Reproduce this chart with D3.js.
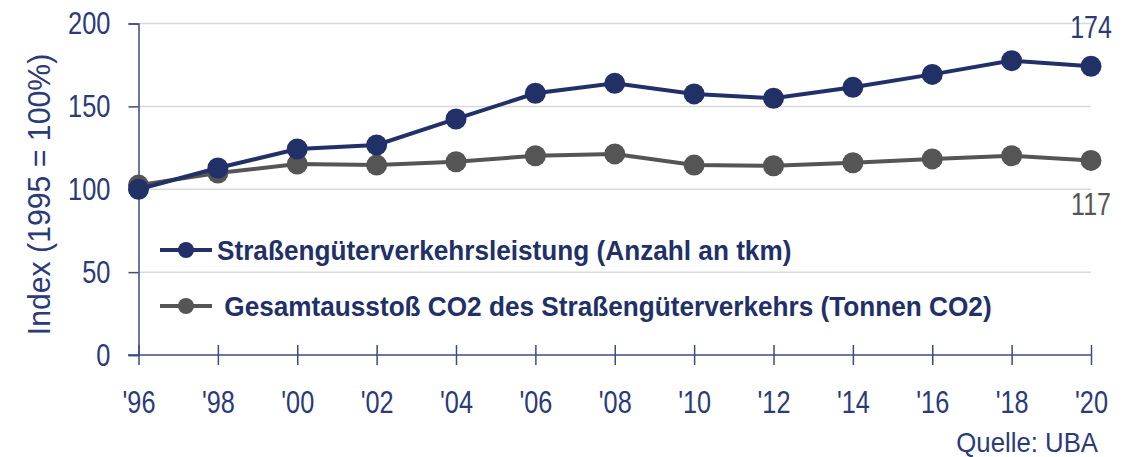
<!DOCTYPE html>
<html><head><meta charset="utf-8">
<script src="https://cdn.jsdelivr.net/npm/d3@7"></script>
<style>body{margin:0;background:#fff}svg{display:block}</style>
</head><body><svg id="c" width="1137" height="457"></svg>
<script>
const years = ["'96","'98","'00","'02","'04","'06","'08","'10","'12","'14","'16","'18","'20"];
const tkm = [100, 112.8, 124.3, 126.7, 142.4, 157.9, 163.9, 157.5, 154.9, 161.5, 169.3, 177.6, 174.2];
const co2 = [102.5, 109.8, 115.2, 114.6, 116.6, 120.2, 121.3, 114.6, 114.2, 116.0, 118.3, 120.2, 117.4];
const yTicks = [0, 50, 100, 150, 200];
const seriesNames = ["Straßengüterverkehrsleistung (Anzahl an tkm)", " Gesamtausstoß CO2 des Straßengüterverkehrs (Tonnen CO2)"];
const endLabels = ["174", "117"];

const navy = "#223068", gray = "#555555", axisCol = "#3d4c82", txt = "#2b3a78";
const font = "'Liberation Sans',Arial,sans-serif";
const svg = d3.select("#c");
const x = d3.scalePoint().domain(years).range([138.5, 1091]);
const y = d3.scaleLinear().domain([0, 200]).range([355, 23.5]);

function label(g, tx, ty, str, size, sx, anchor, fill, weight) {
  return g.append("text").attr("transform", `translate(${tx},${ty}) scale(${sx},1)`)
    .attr("text-anchor", anchor).attr("fill", fill)
    .style("font", `${weight || "normal"} ${size}px ${font}`).attr("xml:space", "preserve").text(str);
}

// gridlines
svg.append("g").selectAll("line").data(yTicks.filter(d => d > 0)).join("line")
  .attr("x1", 138.5).attr("x2", 1091).attr("y1", d => y(d)).attr("y2", d => y(d))
  .attr("stroke", "#d9d9d9").attr("stroke-width", 1.5);

// y axis
const ya = svg.append("g").attr("transform", "translate(138.5,0)")
  .call(d3.axisLeft(y).tickValues(yTicks).tickSize(10).tickPadding(8));
ya.select(".domain").attr("stroke", axisCol).attr("stroke-width", 1.5);
ya.selectAll(".tick line").attr("stroke", axisCol).attr("stroke-width", 1.5);
ya.selectAll(".tick text").attr("fill", txt).style("font", `31px ${font}`)
  .attr("x", 0).attr("dy", "0.33em").attr("transform", "translate(-28,0) scale(0.82,1)");

// x axis
const xa = svg.append("g").attr("transform", "translate(0,355)")
  .call(d3.axisBottom(x).tickSize(10).tickSizeOuter(0).tickPadding(22));
xa.select(".domain").attr("stroke", axisCol).attr("stroke-width", 1.5).attr("d", "M128,0H1091");
xa.selectAll(".tick line").attr("stroke", axisCol).attr("stroke-width", 1.5).attr("y1", -10);
xa.selectAll(".tick text").attr("fill", txt).style("font", `32px ${font}`)
  .attr("y", 0).attr("dy", "0.71em").attr("transform", "translate(0,35) scale(0.79,1)");

// axis title
svg.append("text").attr("transform", "translate(50,194.5) rotate(-90) scale(0.945,1)").attr("text-anchor", "middle")
  .attr("fill", txt).style("font", `32px ${font}`).text("Index (1995 = 100%)");

const series = [{v: tkm, c: navy}, {v: co2, c: gray}];
const line = d3.line().x((d, i) => x(years[i])).y(d => y(d));
series.slice().reverse().forEach(s => {
  const g = svg.append("g");
  g.append("path").attr("d", line(s.v)).attr("fill", "none").attr("stroke", s.c).attr("stroke-width", 4);
  g.selectAll("circle").data(s.v).join("circle").attr("cx", (d, i) => x(years[i])).attr("cy", d => y(d))
    .attr("r", 10.5).attr("fill", s.c);
});

// end labels
label(svg, x(years[12]), 38, endLabels[0], 32, 0.78, "middle", txt);
label(svg, x(years[12]), 215, endLabels[1], 32, 0.78, "middle", gray);

// legend
const legY = [250, 306];
series.forEach((s, i) => {
  const g = svg.append("g");
  g.append("line").attr("x1", 160).attr("x2", 212).attr("y1", legY[i]).attr("y2", legY[i]).attr("stroke", s.c).attr("stroke-width", 4);
  g.append("circle").attr("cx", 186).attr("cy", legY[i]).attr("r", 8).attr("fill", s.c);
  label(g, 217, legY[i] + 10, seriesNames[i], 28, 0.935, "start", navy, "bold");
});

label(svg, 1098, 452, "Quelle: UBA", 28, 0.92, "end", txt);
</script></body></html>
